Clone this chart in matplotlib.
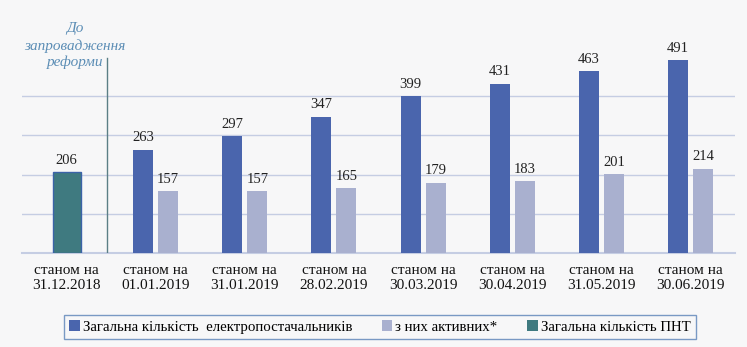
import matplotlib.pyplot as plt
import numpy as np
from matplotlib.patches import Patch

# Number of electricity suppliers by reporting date
dates = ["31.12.2018", "01.01.2019", "31.01.2019", "28.02.2019",
         "30.03.2019", "30.04.2019", "31.05.2019", "30.06.2019"]
total_suppliers = [263, 297, 347, 399, 431, 463, 491]
active_suppliers = [157, 157, 165, 179, 183, 201, 214]
pnt_total = [206]

legend_labels = ["Загальна кількість  електропостачальників",
                 "з них активних*",
                 "Загальна кількість ПНТ"]

dark_blue = "#4a65ad"
light_blue = "#a9b0cf"
teal = "#3f7a80"
bg = "#f7f7f8"
grid_col = "#c5cde3"

plt.rcParams['font.family'] = ['Liberation Serif', 'DejaVu Serif']

fig = plt.figure(figsize=(7.47, 3.47), dpi=100)
fig.patch.set_facecolor(bg)
ax = fig.add_axes([22 / 747, 94 / 347, 713 / 747, 248 / 347])
ax.set_facecolor(bg)

x = np.arange(len(dates))
px = 89.1  # pixels per category
w = 20 / px
off = 12.5 / px

# pre-reform bar
b0 = ax.bar(x[:1], pnt_total, width=28 / px, color=teal, edgecolor="#3b63a8",
            linewidth=1.0, zorder=3)
b1 = ax.bar(x[1:] - off, total_suppliers, width=w, color=dark_blue, zorder=3)
b2 = ax.bar(x[1:] + off, active_suppliers, width=w, color=light_blue, zorder=3)

for bars, vals in ((b0, pnt_total), (b1, total_suppliers), (b2, active_suppliers)):
    for rect, v in zip(bars, vals):
        ax.annotate(str(v), (rect.get_x() + rect.get_width() / 2, v),
                    xytext=(0, 4), textcoords="offset points",
                    ha="center", va="bottom", fontsize=10.5, color="#222222")

ax.set_xlim(-0.5, len(dates) - 0.5)
ax.set_ylim(0, 632)
ax.set_yticks([100, 200, 300, 400])
ax.yaxis.grid(True, color=grid_col, linewidth=1.0, zorder=0)
ax.axhline(0, color=grid_col, linewidth=1.5, zorder=1, clip_on=False)
ax.tick_params(axis="y", left=False, labelleft=False)
ax.tick_params(axis="x", length=0, pad=8, labelsize=11)
ax.set_xticks(x)
ax.set_xticklabels(["станом на\n" + d for d in dates], linespacing=1.15,
                   color="#111111")
for s in ax.spines.values():
    s.set_visible(False)

# reform divider
ax.plot([0.453, 0.453], [0, 497], color="#5b7f86", linewidth=1.0, zorder=2)
ax.text(0.094, 528, "До\nзапровадження\nреформи", ha="center", va="center",
        style="italic", fontsize=11, color="#5b8db5", linespacing=1.3)

handles = [Patch(facecolor=dark_blue), Patch(facecolor=light_blue),
           Patch(facecolor=teal)]
leg = fig.legend(handles, legend_labels, ncol=3, loc="center",
                 bbox_to_anchor=(380 / 747, 1 - 327 / 347), fontsize=10.7,
                 handlelength=0.7, handleheight=0.7, handletextpad=0.2,
                 columnspacing=2.0, frameon=True, fancybox=False,
                 borderpad=0.35)
leg.get_frame().set_edgecolor("#5a82b8")
leg.get_frame().set_facecolor(bg)
leg.get_frame().set_linewidth(1.0)

fig.savefig("out.png", dpi=100, facecolor=bg)
